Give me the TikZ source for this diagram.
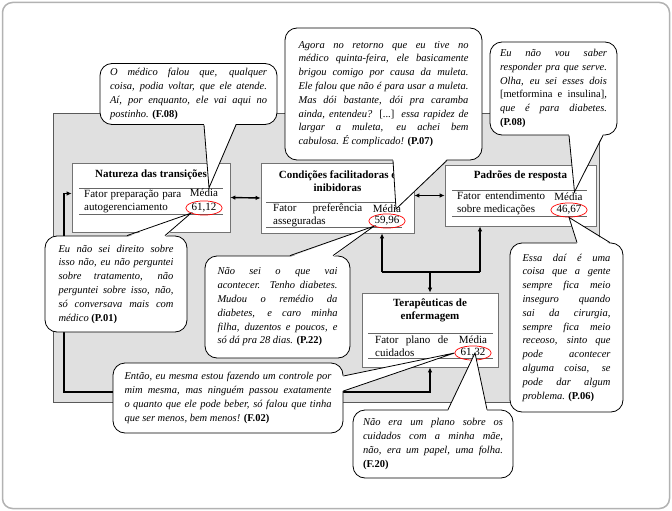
\documentclass[tikz,border=0pt]{standalone}
\usepackage{fontspec}
\setmainfont{Liberation Serif}
\usetikzlibrary{shapes.geometric,arrows.meta}
\newcommand\rabo[4]{\fill[white] ([#4]#1) -- #3 -- ([#4]#2) -- cycle;
  \draw[cauda] (#1) -- #3 -- (#2);}
\begin{document}
\begin{tikzpicture}[x=1pt,y=-1pt,
    caixa/.style={draw=black!55,fill=white,line width=.7pt},
    titulo/.style={font=\fontsize{11pt}{13.6pt}\selectfont\bfseries,align=center},
    fator/.style={font=\fontsize{11pt}{13pt}\selectfont,align=justify,anchor=west,inner sep=0pt},
    media/.style={font=\fontsize{11pt}{13pt}\selectfont,inner sep=1pt},
    valor/.style={ellipse,draw=red,line width=.7pt,font=\fontsize{11pt}{13pt}\selectfont,inner sep=.5pt},
    regra/.style={draw=black!60,line width=.6pt},
    seta/.style={line width=1.4pt,>={Latex[length=5pt,width=4.5pt]}},
    fala/.style={draw,fill=white,line width=.8pt,rounded corners=12pt,align=justify,
      font=\fontsize{10.5pt}{13.8pt}\selectfont\itshape},
    cauda/.style={line width=.8pt}]
  \useasboundingbox (0,0) rectangle (672,511);
  \draw[draw=black!30,line width=1.5pt,rounded corners=10pt] (2.5,2.5) rectangle (669.5,508.5);
  \draw[draw=black!65,fill=black!12,line width=.7pt] (53,113) rectangle (599,402);

  \node[caixa,minimum width=158pt,minimum height=69pt] (nat) at (151,197.5) {};
  \node[caixa,minimum width=153pt,minimum height=70pt] (con) at (337.5,198) {};
  \node[caixa,minimum width=151pt,minimum height=61pt] (pad) at (520.5,195.5) {};
  \node[caixa,minimum width=136pt,minimum height=74pt] (ter) at (430,330) {};

  \draw[seta,<->] (nat.east) -- (con.west);
  \draw[seta,<->] (con.east |- pad.west) -- (pad.west);
  \coordinate (jl) at (382,272);
  \coordinate (jr) at (480,272);
  \draw[seta] (jl) -- (jr);
  \draw[seta,->] (jl) -- (jl |- con.south);
  \draw[seta,->] (jr) -- (jr |- pad.south);
  \draw[seta,->] (ter.north |- jl) -- (ter.north);
  \coordinate (lp) at (64,392);
  \draw[seta,<->] (ter.south) |- (lp) |- ([yshift=4pt]nat.west);

  \node[titulo] (natt) at (151,175) {Natureza das transições};
  \draw[regra] (79,188) -- (223,188) (79,214) -- (223,214);
  \node[fator,text width=97pt] (natf) at (84,201.5) {Fator preparação para autogerenciamento};
  \node[media] (natmed) at (204,193) {Média};
  \node[valor] (natval) at (204,208) {61,12};

  \node[titulo] (cont) at (337.5,181) {Condições facilitadoras e\\inibidoras};
  \draw[regra] (266,202) -- (402,202) (266,227) -- (402,227);
  \node[fator,text width=89pt] (conf) at (273,215) {Fator preferência asseguradas};
  \node[media] (conmed) at (387,209) {Média};
  \node[valor] (conval) at (387,221) {59,96};

  \node[titulo] (padt) at (520.5,176) {Padrões de resposta};
  \draw[regra] (452,190) -- (587,190) (452,216) -- (587,216);
  \node[fator,text width=88pt] (padf) at (457,203.5) {Fator entendimento sobre medicações};
  \node[media] (padmed) at (568.5,197) {Média};
  \node[valor] (padval) at (569,210) {46,67};

  \node[titulo] (tert) at (430,310.5) {Terapêuticas de\\enfermagem};
  \draw[regra] (368,333) -- (493,333) (368,358) -- (493,358);
  \node[fator,text width=73pt] (terf) at (375,346.5) {Fator plano de cuidados};
  \node[media] (termed) at (473,340) {Média};
  \node[valor] (terval) at (473,353) {61,32};

  \node[fala,text width=157pt,minimum width=177pt,minimum height=61pt] (f08) at (188.5,94)
    {O médico falou que, qualquer\linebreak coisa, podia voltar, que ele atende.\linebreak
     Aí, por enquanto, ele vai aqui no\linebreak postinho. \textup{\textbf{(F.08)}}};
  \coordinate (f08a) at ([xshift=15.5pt]f08.south);
  \coordinate (f08b) at ([xshift=47.5pt]f08.south);
  \rabo{f08a}{f08b}{([xshift=5pt]natmed.north)}{yshift=1.5pt}

  \node[fala,text width=170pt,minimum width=197pt,minimum height=132pt] (p07) at (383.5,94)
    {Agora no retorno que eu tive no\linebreak médico quinta-feira, ele basicamente\linebreak
     brigou comigo por causa da muleta.\linebreak Ele falou que não é para usar a muleta.\linebreak
     Mas dói bastante, dói pra caramba\linebreak ainda, entendeu? \textup{[...]} essa rapidez de\linebreak
     largar a muleta, eu achei bem\linebreak cabulosa. É complicado! \textup{\textbf{(P.07)}}};
  \coordinate (p07a) at ([xshift=9.5pt]p07.south);
  \coordinate (p07b) at ([xshift=63.5pt]p07.south);
  \rabo{p07a}{p07b}{([xshift=9pt]conmed.center)}{yshift=1.5pt}

  \node[fala,text width=107pt,minimum width=127pt,minimum height=93pt] (p08) at (553.5,88.5)
    {Eu não vou saber\linebreak responder pra que serve.\linebreak Olha, eu sei esses dois\linebreak
     \textup{[metformina e insulina]},\linebreak que é para diabetes.\linebreak \textup{\textbf{(P.08)}}};
  \coordinate (p08a) at ([xshift=15.5pt]p08.south);
  \coordinate (p08b) at ([xshift=49.5pt]p08.south);
  \rabo{p08a}{p08b}{([xshift=6pt]padmed.north)}{yshift=1.5pt}

  \node[fala,text width=115pt,minimum width=142pt,minimum height=96pt] (p01) at (116,284)
    {Eu não sei direito sobre\linebreak isso não, eu não perguntei\linebreak sobre tratamento, não\linebreak
     perguntei sobre isso, não,\linebreak só conversava mais com\linebreak médico \textup{\textbf{(P.01)}}};
  \coordinate (p01a) at ([xshift=11pt]p01.north);
  \coordinate (p01b) at ([xshift=49pt]p01.north);
  \rabo{p01a}{p01b}{(natval.south west)}{yshift=-1.5pt}

  \node[fala,text width=120pt,minimum width=145pt,minimum height=102pt] (p22) at (277.5,307)
    {Não sei o que vai\linebreak acontecer. Tenho diabetes.\linebreak Mudou o remédio da\linebreak
     diabetes, e caro minha\linebreak filha, duzentos e poucos, e\linebreak só dá pra 28 dias. \textup{\textbf{(P.22)}}};
  \coordinate (p22a) at ([xshift=12.5pt]p22.north);
  \coordinate (p22b) at ([xshift=55.5pt]p22.north);
  \rabo{p22a}{p22b}{(conval.south west)}{yshift=-1.5pt}

  \node[fala,text width=88pt,minimum width=113pt,minimum height=169pt] (p06) at (566.5,327.5)
    {Essa daí é uma\linebreak coisa que a gente\linebreak sempre fica meio\linebreak inseguro quando\linebreak
     sai da cirurgia,\linebreak sempre fica meio\linebreak receoso, sinto que\linebreak pode acontecer\linebreak
     alguma coisa, se\linebreak pode dar algum\linebreak problema. \textup{\textbf{(P.06)}}};
  \coordinate (p06a) at ([xshift=10.5pt]p06.north);
  \coordinate (p06b) at ([xshift=43.5pt]p06.north);
  \rabo{p06a}{p06b}{(padval.south)}{yshift=-1.5pt}

  \node[fala,text width=207pt,minimum width=230pt,minimum height=70pt] (f02) at (228,398)
    {Então, eu mesma estou fazendo um controle por\linebreak mim mesma, mas ninguém passou exatamente\linebreak
     o quanto que ele pode beber, só falou que tinha\linebreak que ser menos, bem menos! \textup{\textbf{(F.02)}}};
  \coordinate (f02a) at ([yshift=22pt]f02.east);
  \coordinate (f02b) at ([yshift=7pt]f02.east);
  \rabo{f02a}{f02b}{(terval.west)}{xshift=-1.5pt}

  \node[fala,text width=140pt,minimum width=160pt,minimum height=68pt] (f20) at (433,444)
    {Não era um plano sobre os\linebreak cuidados com a minha mãe,\linebreak não, era um papel, uma folha.\linebreak
     \textup{\textbf{(F.20)}}};
  \coordinate (f20a) at ([xshift=15pt]f20.north);
  \coordinate (f20b) at ([xshift=54pt]f20.north);
  \rabo{f20a}{f20b}{([xshift=2pt]terval.center)}{yshift=-1.5pt}
\end{tikzpicture}
\end{document}
